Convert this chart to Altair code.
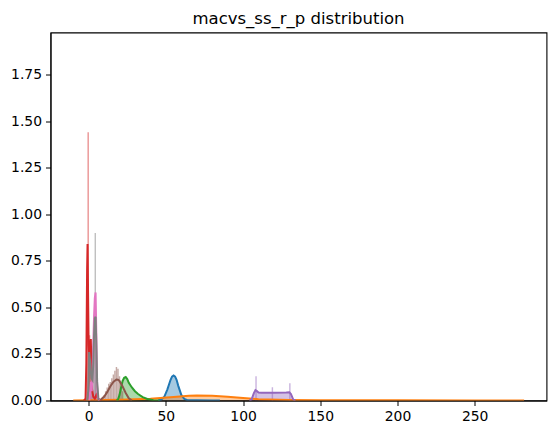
import pandas as pd
import altair as alt

# series names / colours (matplotlib tab10 order)
series = ["s0", "s1", "s2", "s3", "s4", "s5", "s6", "s7"]
colors = ["#1f77b4", "#ff7f0e", "#2ca02c", "#d62728", "#9467bd", "#8c564b", "#e377c2", "#7f7f7f"]

# kde curves
kde_x = {
    "s0": [45, 47, 49, 51, 53, 54, 55, 56, 57, 58, 60, 62, 64, 70, 80, 85],
    "s1": [-10, 0, 20, 40, 55, 65, 70, 80, 90, 100, 110, 130, 150, 200, 250, 282],
    "s2": [18, 19, 20, 21, 22, 23, 24, 25, 26, 28, 30, 32, 35, 38, 42, 46],
    "s3": [-3, -2, -1.5, -1, -0.7, -0.4, 0, 0.5, 1, 1.4, 1.8, 2.2, 3, 4, 5, 6, 8],
    "s4": [104, 105.5, 107, 108, 109, 110, 112, 120, 128, 130, 131, 132.5, 134],
    "s5": [6, 8, 10, 12, 14, 16, 18, 19, 20, 22, 24, 26, 28],
    "s6": [0.5, 1, 1.5, 2, 2.5, 3, 3.5, 4, 4.5, 5, 5.5, 6, 7],
    "s7": [-1, -0.3, 0.3, 1, 1.8, 2.5, 3, 3.5, 4, 4.5, 5, 5.5, 6.4],
}
kde_y = {
    "s0": [0, 0.005, 0.02, 0.06, 0.11, 0.128, 0.134, 0.128, 0.11, 0.08, 0.03, 0.008, 0.002, 0.001, 0.0005, 0],
    "s1": [0, 0.001, 0.004, 0.01, 0.019, 0.025, 0.027, 0.025, 0.02, 0.013, 0.007, 0.003, 0.0015, 0.0008, 0.0004, 0.0002],
    "s2": [0, 0.005, 0.03, 0.07, 0.105, 0.122, 0.126, 0.115, 0.095, 0.07, 0.05, 0.035, 0.018, 0.008, 0.002, 0],
    "s3": [0, 0.01, 0.2, 0.7, 0.84, 0.6, 0.3, 0.22, 0.3, 0.33, 0.2, 0.06, 0.02, 0.01, 0.03, 0.01, 0],
    "s4": [0, 0.005, 0.04, 0.055, 0.05, 0.043, 0.041, 0.042, 0.043, 0.044, 0.035, 0.005, 0],
    "s5": [0, 0.005, 0.02, 0.045, 0.075, 0.1, 0.113, 0.112, 0.105, 0.075, 0.04, 0.012, 0],
    "s6": [0, 0.05, 0.1, 0.05, 0.15, 0.3, 0.45, 0.55, 0.58, 0.35, 0.08, 0.01, 0],
    "s7": [0, 0.05, 0.26, 0.2, 0.12, 0.11, 0.2, 0.35, 0.44, 0.45, 0.3, 0.1, 0],
}
# series whose area under the curve is shaded
filled = ["s0", "s1", "s2", "s3", "s4", "s6", "s7"]

# histogram spikes
hist_x = {
    "s3": [-0.3, 0.6],
    "s5": [9, 10, 11, 12, 13, 14, 15, 16, 17, 18, 19, 20, 21, 22],
    "s4": [108.4, 119, 130.3],
    "s7": [0.2, 4.3],
}
hist_h = {
    "s3": [1.44, 0.35],
    "s5": [0.02, 0.03, 0.05, 0.07, 0.09, 0.1, 0.12, 0.14, 0.16, 0.18, 0.17, 0.13, 0.1, 0.05],
    "s4": [0.13, 0.071, 0.093],
    "s7": [0.3, 0.9],
}

kde = pd.concat([pd.DataFrame({"x": kde_x[s], "y": kde_y[s], "series": s}) for s in series])
hist = pd.concat([pd.DataFrame({"x": hist_x[s], "h": hist_h[s], "series": s}) for s in hist_x])
hist["base"] = 0.0

xs = alt.Scale(domain=[-24.7, 296.5], nice=False, zero=False)
ys = alt.Scale(domain=[0, 1.976], nice=False)
col = alt.Color("series:N", scale=alt.Scale(domain=series, range=colors), legend=None)

xax = alt.Axis(values=[0, 50, 100, 150, 200, 250], format="d", title=None, grid=False)
yax = alt.Axis(values=[0, 0.25, 0.5, 0.75, 1.0, 1.25, 1.5, 1.75], format=".2f", title=None, grid=False)

area = alt.Chart(kde[kde.series.isin(filled)]).mark_area(opacity=0.4, clip=True).encode(
    x=alt.X("x:Q", scale=xs, axis=xax),
    y=alt.Y("y:Q", scale=ys, axis=yax, stack=None),
    color=col,
    detail="series:N",
)

spikes = alt.Chart(hist).mark_rule(opacity=0.5, strokeWidth=1.4, clip=True).encode(
    x="x:Q",
    y="base:Q",
    y2="h:Q",
    color=col,
)

lines = alt.Chart(kde).mark_line(strokeWidth=2, clip=True).encode(
    x="x:Q",
    y="y:Q",
    color=col,
    detail="series:N",
)

chart = (
    alt.layer(area, spikes, lines)
    .properties(
        width=496,
        height=368,
        background="white",
        title=alt.TitleParams(
            "macvs_ss_r_p distribution",
            fontSize=16.5,
            font="DejaVu Sans",
            fontWeight="normal",
            anchor="middle",
            color="black",
            offset=5,
        ),
        autosize=alt.AutoSizeParams(type="none"),
        padding={"left": 42.5, "top": 24.5, "right": 1.5, "bottom": 30},
    )
    .configure_view(stroke="black", strokeWidth=1.1)
    .configure_axis(
        labelFont="DejaVu Sans",
        labelFontSize=13.9,
        labelColor="black",
        domainColor="black",
        tickColor="black",
        tickSize=5,
        labelPadding=4,
    )
)

chart.save("out.html", embed_options={"renderer": "svg", "actions": False})
